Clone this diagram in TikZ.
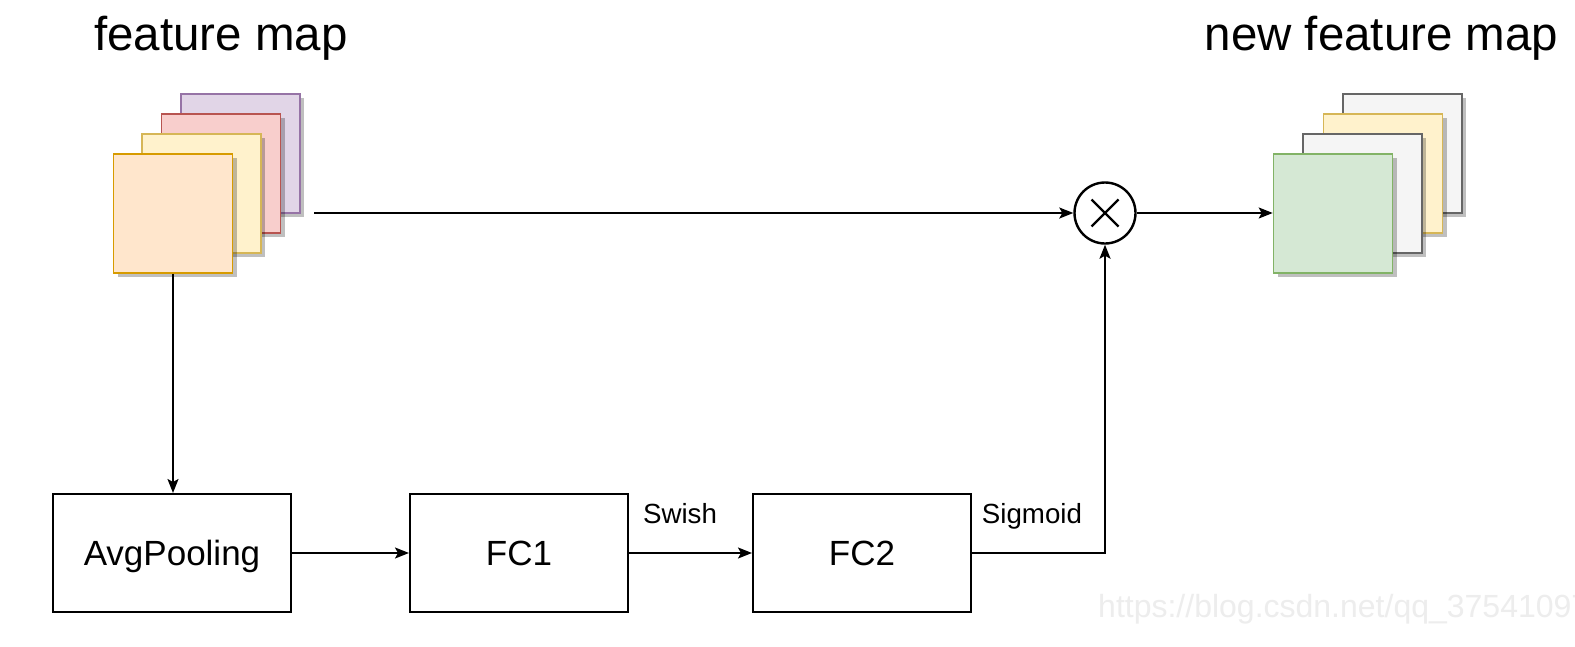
\documentclass[tikz,border=0pt]{standalone}
\usepackage{fontspec}
\setmainfont{Liberation Sans}
\usetikzlibrary{arrows.meta,shadows}
\definecolor{orF}{HTML}{FFE6CC}\definecolor{orD}{HTML}{D79B00}
\definecolor{yeF}{HTML}{FFF2CC}\definecolor{yeD}{HTML}{D6B656}
\definecolor{reF}{HTML}{F8CECC}\definecolor{reD}{HTML}{B85450}
\definecolor{puF}{HTML}{E1D5E7}\definecolor{puD}{HTML}{9673A6}
\definecolor{grF}{HTML}{F5F5F5}\definecolor{grD}{HTML}{666666}
\definecolor{gnF}{HTML}{D5E8D4}\definecolor{gnD}{HTML}{82B366}
\begin{document}
\begin{tikzpicture}[x=1pt,y=-1pt,
  sheet/.style={draw, line width=1.6pt, minimum width=119pt, minimum height=119pt, inner sep=0pt,
    drop shadow={shadow xshift=4pt, shadow yshift=-4pt, fill=black, opacity=0.25}},
  box/.style={draw, line width=2pt, minimum height=118pt, inner sep=0pt,
    font=\fontsize{35}{42}\selectfont, text height=25pt, text depth=0pt},
  lab/.style={font=\fontsize{27.7}{33}\selectfont, inner sep=0pt, anchor=base},
  ttl/.style={font=\fontsize{47.5}{57}\selectfont, inner sep=0pt, anchor=base},
  arr/.style={line width=1.9pt, -{Stealth[length=14pt,width=11pt,inset=3pt]}}]
\useasboundingbox (0,0) rectangle (1575,646);
\fill[white] (0,0) rectangle (1575,646);

% titles
\node[ttl] (t1) at (221,50) {feature map};
\node[ttl] (t2) at (1381.5,50) {new feature map};

% input feature map stack
\node[sheet, fill=puF, draw=puD] (p1) at (240.5,153.5) {};
\node[sheet, fill=reF, draw=reD] (r1) at (221,173.5) {};
\node[sheet, fill=yeF, draw=yeD] (y1) at (201.5,193.5) {};
\node[sheet, fill=orF, draw=orD] (o1) at (173,213.5) {};

% output feature map stack
\node[sheet, fill=grF, draw=grD] (g4) at (1402.5,153.5) {};
\node[sheet, fill=yeF, draw=yeD] (g3) at (1383,173.5) {};
\node[sheet, fill=grF, draw=grD] (g2) at (1362.5,193.5) {};
\node[sheet, fill=gnF, draw=gnD] (g1) at (1333,213.5) {};

% multiply
\node[circle, draw, line width=2.4pt, minimum size=61pt, inner sep=0pt] (ox) at (1105,213) {};
\draw[line width=2.2pt] ([shift={(-13.5pt,-13.5pt)}]ox.center) -- ([shift={(13.5pt,13.5pt)}]ox.center);
\draw[line width=2.2pt] ([shift={(-13.5pt,13.5pt)}]ox.center) -- ([shift={(13.5pt,-13.5pt)}]ox.center);

% boxes
\node[box, minimum width=238pt] (avg) at (172,553) {AvgPooling};
\node[box, minimum width=218pt] (fc1) at (519,553) {FC1};
\node[box, minimum width=218pt] (fc2) at (862,553) {FC2};

% labels
\node[lab] (sw) at (680,523) {Swish};
\node[lab] (sg) at (1032,523) {Sigmoid};

% connectors
\coordinate (fmout) at (314,213);
\draw[arr] (fmout) -- (ox.west);
\draw[arr] (ox.east) -- (ox.east -| g1.west);
\draw[arr] (o1.south) -- (o1.south |- avg.north);
\draw[arr] (avg.east) -- (fc1.west);
\draw[arr] (fc1.east) -- (fc2.west);
\draw[arr] (fc2.east) -| (ox.south);

% watermark
\begin{scope}
\clip (0,0) rectangle (1575,646);
\node[anchor=base west, text=black!7, font=\fontsize{32}{38}\selectfont, inner sep=0pt] (wm) at (1098,617) {https://blog.csdn.net/qq\_37541097};
\end{scope}
\end{tikzpicture}
\end{document}
